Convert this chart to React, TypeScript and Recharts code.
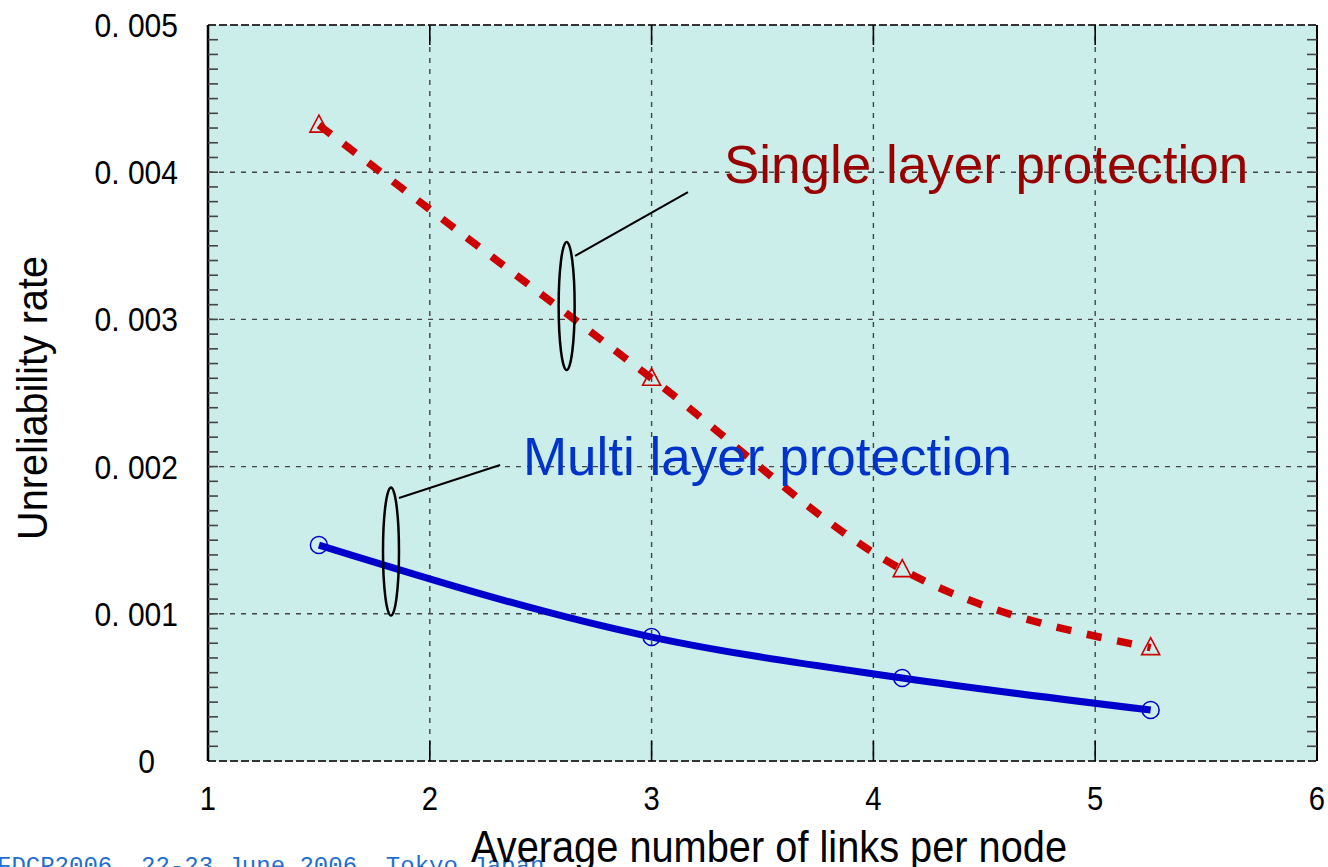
import { LineChart, Line, XAxis, YAxis, CartesianGrid, ReferenceDot, ReferenceLine } from 'recharts'

// values
const X_VALUES = [1.5, 3.0, 4.13, 5.25]
const SINGLE_LAYER = [0.00432, 0.0026, 0.0013, 0.00077]
const MULTI_LAYER = [0.001467, 0.000842, 0.000564, 0.000346]

const X_TICKS = [1, 2, 3, 4, 5, 6]
const Y_TICKS = [0, 0.001, 0.002, 0.003, 0.004, 0.005]
const Y_TICK_LABELS = ['0', '0. 001', '0. 002', '0. 003', '0. 004', '0. 005']
const MINOR_Y_TICKS = Array.from({ length: 49 }, (_, i) => +((i + 1) * 0.0001).toFixed(4))
const X_INNER_TICKS = [2, 3, 4, 5]

const W = 1328
const H = 867
const FONT = '"Liberation Sans", Arial, Helvetica, sans-serif'
const BG = '#cbeeea'
const RED = '#cc0000'
const BLUE = '#0000cc'
const X_MIN = 1
const X_MAX = 6
const Y_MIN = 0
const Y_MAX = 0.005

const data = X_VALUES.map((x, i) => ({ x, single: SINGLE_LAYER[i], multi: MULTI_LAYER[i] }))

// annotation anchors, in data units
const SINGLE_NOTE = { x: 3.326, y: 0.003927 }
const MULTI_NOTE = { x: 2.42, y: 0.001943 }
const SINGLE_RING = { x: 2.617, y: 0.003091 }
const MULTI_RING = { x: 1.825, y: 0.001423 }
const SINGLE_LEADER = [{ x: 2.655, y: 0.003431 }, { x: 3.164, y: 0.003865 }]
const MULTI_LEADER = [{ x: 1.861, y: 0.001787 }, { x: 2.317, y: 0.002011 }]

// tick labels in the reference use a narrow gothic face: squeeze a sans horizontally
const XTick = (p: any) => (
  <text
    transform={`translate(${p.x},${p.y + 47}) scale(0.86,1)`}
    textAnchor="middle"
    fontSize={34}
    fontFamily={FONT}
    fill="#000"
  >
    {p.payload.value}
  </text>
)

const YTick = (p: any) => {
  const i = Y_TICKS.indexOf(p.payload.value)
  const label = Y_TICK_LABELS[i] ?? String(p.payload.value)
  const zero = p.payload.value === 0
  return (
    <text
      transform={`translate(${zero ? p.x - 23 : p.x},${p.y + 12}) scale(0.91,1)`}
      textAnchor="end"
      fontSize={33}
      fontFamily={FONT}
      fill="#000"
    >
      {label}
    </text>
  )
}

const Triangle = (p: any) => (
  <path
    key={`tri-${p.index}`}
    d={`M${p.cx},${p.cy - 10} L${p.cx + 9},${p.cy + 7} L${p.cx - 9},${p.cy + 7} Z`}
    fill="none"
    stroke={RED}
    strokeWidth={1.6}
  />
)

const Ring = (p: any) => (
  <circle key={`ring-${p.index}`} cx={p.cx} cy={p.cy} r={8.5} fill="none" stroke={BLUE} strokeWidth={1.5} />
)

const Ellipse = (p: any) => <ellipse cx={p.cx} cy={p.cy} rx={8} ry={64} fill="none" stroke="#000" strokeWidth={2.5} />

// short inward tick marks, anchored on the frame through the scales
const tickShape = (dx: number, dy: number, len: number, color: string) => (p: any) =>
  <line x1={p.cx} y1={p.cy} x2={p.cx + dx * len} y2={p.cy + dy * len} stroke={color} strokeWidth={1.6} />

export default function App() {
  return (
    <div style={{ position: 'absolute', left: 0, top: 0, width: W, height: H, overflow: 'hidden', background: '#fff' }}>
      <LineChart width={W} height={H} data={data} margin={{ top: 25, right: 11, bottom: 105, left: 207 }}>
        <CartesianGrid fill={BG} stroke="#444" strokeDasharray="5 6" strokeWidth={1.4} />
        <XAxis
          dataKey="x"
          type="number"
          domain={[X_MIN, X_MAX]}
          ticks={X_TICKS}
          allowDataOverflow
          height={1}
          tickSize={0}
          tickLine={false}
          axisLine={{ stroke: '#333', strokeWidth: 2, strokeDasharray: '8 3' }}
          tick={<XTick />}
        />
        <YAxis
          type="number"
          domain={[Y_MIN, Y_MAX]}
          ticks={Y_TICKS}
          allowDataOverflow
          width={1}
          tickSize={0}
          tickMargin={30}
          tickLine={false}
          axisLine={{ stroke: '#000', strokeWidth: 2.5 }}
          tick={<YTick />}
        />

        <ReferenceLine y={Y_MAX} stroke="#333" strokeWidth={2} strokeDasharray="8 3" />
        <ReferenceLine x={X_MAX} stroke="#000" strokeWidth={2} />

        {MINOR_Y_TICKS.map(v => (
          <ReferenceDot key={`ml-${v}`} x={X_MIN} y={v} r={0} shape={tickShape(1, 0, 10, '#444')} />
        ))}
        {MINOR_Y_TICKS.map(v => (
          <ReferenceDot key={`mr-${v}`} x={X_MAX} y={v} r={0} shape={tickShape(-1, 0, 10, '#444')} />
        ))}
        {X_INNER_TICKS.map(v => (
          <ReferenceDot key={`xb-${v}`} x={v} y={Y_MIN} r={0} shape={tickShape(0, -1, 20, '#000')} />
        ))}
        {X_INNER_TICKS.map(v => (
          <ReferenceDot key={`xt-${v}`} x={v} y={Y_MAX} r={0} shape={tickShape(0, 1, 20, '#000')} />
        ))}

        <ReferenceDot
          x={SINGLE_NOTE.x}
          y={SINGLE_NOTE.y}
          r={0}
          shape={(p: any) => (
            <text x={p.cx} y={p.cy} fontSize={53} fontFamily={FONT} fill="#990000">
              Single layer protection
            </text>
          )}
        />
        <ReferenceDot
          x={MULTI_NOTE.x}
          y={MULTI_NOTE.y}
          r={0}
          shape={(p: any) => (
            <text x={p.cx} y={p.cy} fontSize={53} fontFamily={FONT} fill="#0033cc">
              Multi layer protection
            </text>
          )}
        />
        <ReferenceDot x={SINGLE_RING.x} y={SINGLE_RING.y} r={0} shape={Ellipse} />
        <ReferenceDot x={MULTI_RING.x} y={MULTI_RING.y} r={0} shape={Ellipse} />
        <ReferenceLine segment={SINGLE_LEADER} stroke="#000" strokeWidth={2} />
        <ReferenceLine segment={MULTI_LEADER} stroke="#000" strokeWidth={2} />

        <Line
          dataKey="multi"
          type="monotone"
          stroke={BLUE}
          strokeWidth={7}
          dot={Ring}
          activeDot={false}
          isAnimationActive={false}
        />
        <Line
          dataKey="single"
          type="monotone"
          stroke={RED}
          strokeWidth={7.5}
          strokeDasharray="15 16"
          dot={Triangle}
          activeDot={false}
          isAnimationActive={false}
        />
      </LineChart>

      <svg width={W} height={H} style={{ position: 'absolute', left: 0, top: 0, pointerEvents: 'none' }}>
        <text
          transform="translate(32 398) rotate(-90) scale(0.99,1.08)"
          textAnchor="middle"
          dominantBaseline="central"
          fontSize={40}
          fontFamily={FONT}
          fill="#000"
        >
          Unreliability rate
        </text>
        <text x={-3} y={873} fontSize={24} fontFamily='"Liberation Mono", "Courier New", monospace' fill="#1f6fd0">
          FDCP2006, 22-23 June 2006, Tokyo Japan
        </text>
        <text
          transform="translate(769 862) scale(0.97,1.08)"
          textAnchor="middle"
          fontSize={41}
          fontFamily={FONT}
          fill="#000"
        >
          Average number of links per node
        </text>
      </svg>
    </div>
  )
}
